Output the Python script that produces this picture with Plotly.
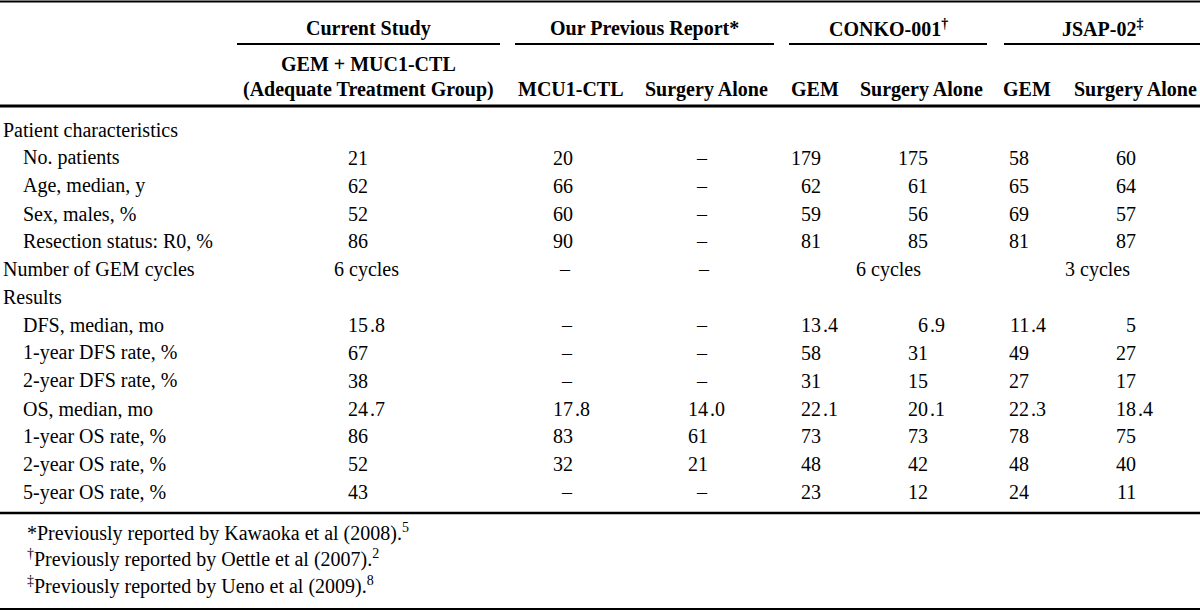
import plotly.graph_objects as go

# ---------------- data ----------------
group_headers = ["Current Study", "Our Previous Report*", "CONKO-001<sup>†</sup>", "JSAP-02<sup>‡</sup>"]
sub_headers = ["GEM + MUC1-CTL<br>(Adequate Treatment Group)", "MCU1-CTL", "Surgery Alone",
               "GEM", "Surgery Alone", "GEM", "Surgery Alone"]

row_labels = ["Patient characteristics", "No. patients", "Age, median, y", "Sex, males, %",
              "Resection status: R0, %", "Number of GEM cycles", "Results",
              "DFS, median, mo", "1-year DFS rate, %", "2-year DFS rate, %",
              "OS, median, mo", "1-year OS rate, %", "2-year OS rate, %", "5-year OS rate, %"]
row_indent = [0, 1, 1, 1, 1, 0, 0, 1, 1, 1, 1, 1, 1, 1]

current_study = [None, "21", "62", "52", "86", None, None, "15.8", "67", "38", "24.7", "86", "52", "43"]
prev_ctl      = [None, "20", "66", "60", "90", None, None, "–", "–", "–", "17.8", "83", "32", "–"]
prev_surgery  = [None, "–", "–", "–", "–", None, None, "–", "–", "–", "14.0", "61", "21", "–"]
conko_gem     = [None, "179", "62", "59", "81", None, None, "13.4", "58", "31", "22.1", "73", "48", "23"]
conko_surgery = [None, "175", "61", "56", "85", None, None, "6.9", "31", "15", "20.1", "73", "42", "12"]
jsap_gem      = [None, "58", "65", "69", "81", None, None, "11.4", "49", "27", "22.3", "78", "48", "24"]
jsap_surgery  = [None, "60", "64", "57", "87", None, None, "5", "27", "17", "18.4", "75", "40", "11"]

# GEM cycles row (spans): text per group of columns
gem_cycles = ["6 cycles", "–", "–", "6 cycles", "3 cycles"]

footnotes = ["*Previously reported by Kawaoka et al (2008).<sup>5</sup>",
             "<sup>†</sup>Previously reported by Oettle et al (2007).<sup>2</sup>",
             "<sup>‡</sup>Previously reported by Ueno et al (2009).<sup>8</sup>"]

# ---------------- layout constants ----------------
W, H = 1200, 611
FONT = "Liberation Serif, Times New Roman, serif"
FS = 20
INK = "#000000"

group_spans = [(237, 500), (515, 774), (789, 987), (1004, 1200)]
sub_centers = [368, 571, 706, 815, 921, 1027, 1135]
decimal_x = [369, 574, 709, 822, 929, 1030, 1137]
cycles_centers = [366, 565, 704, 888, 1097]

y_group = 28
y_underline = 44
y_sub2 = 89
y_sub1 = 64
y_rule_head = 106
row0_y = 130
row_step = 27.85
y_rule_body = 513
foot0_y = 532
foot_step = 26.5
y_bottom = 609

columns = [current_study, prev_ctl, prev_surgery, conko_gem, conko_surgery, jsap_gem, jsap_surgery]

fig = go.Figure()
fig.add_trace(go.Scatter(x=[0, W], y=[0, H], mode="markers", marker=dict(opacity=0),
                         hoverinfo="skip", showlegend=False))

ann = []


def text(x, y, t, anchor="center", bold=False):
    ann.append(dict(x=x, y=y, xref="x", yref="y", text=(f"<b>{t}</b>" if bold else t),
                    showarrow=False, xanchor=anchor, yanchor="middle",
                    font=dict(family=FONT, size=FS, color=INK), borderpad=0))


# headers
for (x0, x1), t in zip(group_spans, group_headers):
    text((x0 + x1) / 2, y_group, t, bold=True)
for i, t in enumerate(sub_headers):
    if "<br>" in t:
        a, b = t.split("<br>")
        text(sub_centers[i], y_sub1, a, bold=True)
        text(sub_centers[i], y_sub2, b, bold=True)
    else:
        text(sub_centers[i], y_sub2, t, bold=True)

# row labels
for i, (lab, ind) in enumerate(zip(row_labels, row_indent)):
    text(2 + 20 * ind, row0_y + i * row_step, lab, anchor="left")

# values, decimal aligned
for c, col in enumerate(columns):
    for i, v in enumerate(col):
        if v is None:
            continue
        y = row0_y + i * row_step
        if v == "–":
            text(decimal_x[c] - 7, y, v)
        elif "." in v:
            ip, fp = v.split(".")
            text(decimal_x[c], y, ip, anchor="right")
            text(decimal_x[c], y, "." + fp, anchor="left")
        else:
            text(decimal_x[c], y, v, anchor="right")

# GEM cycles row
ci = row_labels.index("Number of GEM cycles")
for xc, t in zip(cycles_centers, gem_cycles):
    text(xc, row0_y + ci * row_step, t)

# footnotes
for k, t in enumerate(footnotes):
    text(26, foot0_y + k * foot_step, t, anchor="left")

# rules
shapes = []


def hline(x0, x1, y, w):
    shapes.append(dict(type="line", xref="x", yref="y", x0=x0, x1=x1, y0=y, y1=y,
                       line=dict(color="#000000", width=w)))


hline(0, W, 1.5, 2)
for x0, x1 in group_spans:
    hline(x0, x1, y_underline, 2.2)
hline(0, W, y_rule_head, 3)
hline(0, W, y_rule_body, 2.6)
hline(0, W, y_bottom, 2)

fig.update_layout(
    width=W, height=H, margin=dict(l=0, r=0, t=0, b=0),
    paper_bgcolor="white", plot_bgcolor="white",
    xaxis=dict(range=[0, W], visible=False, fixedrange=True),
    yaxis=dict(range=[H, 0], visible=False, fixedrange=True),
    annotations=ann, shapes=shapes, showlegend=False,
)

fig.write_html("out.html",
               config={"displayModeBar": False, "staticPlot": True},
               post_script="document.body.style.margin='0';document.body.style.padding='0';"
                           "document.body.style.overflow='hidden';")
